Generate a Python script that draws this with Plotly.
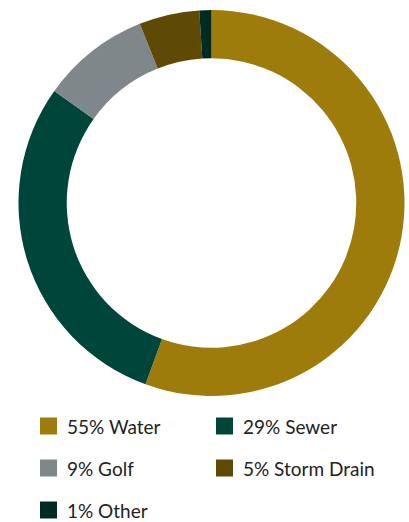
import plotly.graph_objects as go

# Share of total by category
categories = ["Water", "Sewer", "Golf", "Storm Drain", "Other"]
shares = [55, 29, 9, 5, 1]
colors = ["#9e7c0c", "#00453a", "#7f878a", "#5e4a05", "#002b22"]

W, H = 409, 522
FONT = "Lato"
TEXT_COLOR = "#222222"


def px_x(x):
    return x / W


def px_y(y):
    return 1 - y / H


fig = go.Figure(
    go.Pie(
        labels=categories,
        values=shares,
        hole=0.75,
        sort=False,
        direction="clockwise",
        rotation=0,
        marker=dict(colors=colors, line=dict(width=0)),
        textinfo="none",
        hoverinfo="label+percent",
        showlegend=False,
        domain=dict(x=[px_x(18), px_x(405)], y=[px_y(396), px_y(10)]),
    )
)

# Two-column legend below the ring
shapes, annotations = [], []
col_x = [40, 216]
row_y = [426, 468, 510]
box = 17
for i, (name, val, col) in enumerate(zip(categories, shares, colors)):
    cx = col_x[i % 2]
    cy = row_y[i // 2]
    shapes.append(dict(
        type="rect", xref="paper", yref="paper",
        x0=px_x(cx), x1=px_x(cx + box),
        y0=px_y(cy + box / 2), y1=px_y(cy - box / 2),
        fillcolor=col, line=dict(width=0),
    ))
    annotations.append(dict(
        xref="paper", yref="paper",
        x=px_x(cx + box + 8), y=px_y(cy),
        xanchor="left", yanchor="middle",
        text=f"{val}% {name}", showarrow=False,
        font=dict(family=FONT, size=19, color=TEXT_COLOR),
    ))

fig.update_layout(
    width=W, height=H,
    margin=dict(l=0, r=0, t=0, b=0),
    paper_bgcolor="white", plot_bgcolor="white",
    shapes=shapes, annotations=annotations,
)

fig.write_html("out.html")
